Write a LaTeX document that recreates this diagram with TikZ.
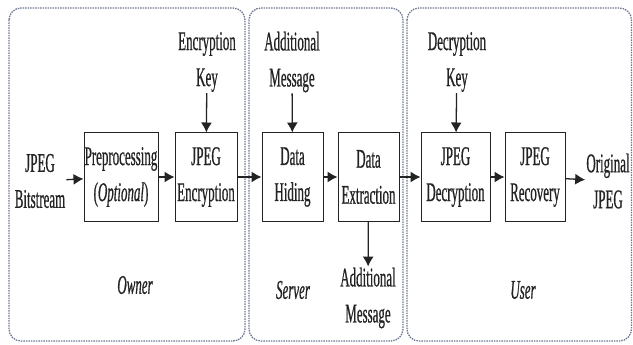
\documentclass[tikz,border=0pt]{standalone}
\usepackage{fontspec}
\setmainfont{Liberation Serif}[FakeStretch=0.48, FakeBold=0.6]
\usetikzlibrary{arrows.meta}
\definecolor{framec}{RGB}{110,120,145}
\definecolor{inkc}{RGB}{35,35,35}
\tikzset{
  frame/.style={draw=framec, line width=1.3pt, dash pattern=on 1.5pt off 1pt, rounded corners=12pt},
  procbox/.style={draw=inkc, line width=1pt, minimum height=88pt, inner sep=0pt, align=center, text=inkc},
  lbl/.style={align=center, inner sep=1pt, text=inkc},
  role/.style={inner sep=1pt, text=inkc, font=\fontsize{27}{36}\selectfont\itshape},
  flow/.style={draw=inkc, line width=1.3pt, -{Latex[length=10pt,width=11pt]}},
  every node/.style={font=\fontsize{27}{36}\selectfont}
}
\begin{document}
\begin{tikzpicture}[x=1pt,y=-1pt]
\useasboundingbox (0,0) rectangle (633,345);
% frames
\draw[frame] (9,8) rectangle (245,341);
\draw[frame] (249,8) rectangle (403,341);
\draw[frame] (407,8) rectangle (631.5,341);
% boxes
\node[procbox, minimum width=74pt] (pre) at (121,177) {Preprocessing\\(\textit{Optional})};
\node[procbox, minimum width=62pt] (enc) at (206,177) {JPEG\\Encryption};
\node[procbox, minimum width=61pt] (hid) at (292.5,177) {Data\\Hiding};
\node[procbox, minimum width=61pt] (ext) at (368.5,177) {Data\\Extraction};
\node[procbox, minimum width=69pt] (dec) at (455.5,177) {JPEG\\Decryption};
\node[procbox, minimum width=60pt] (rec) at (535,177) {JPEG\\Recovery};
% labels
\node[lbl] (bit) at (40,181) {JPEG\\Bitstream};
\node[lbl] (enckey) at (207,62) {Encryption\\Key};
\node[lbl] (addin) at (292,62) {Additional\\Message};
\node[lbl] (deckey) at (457,62) {Decryption\\Key};
\node[lbl] (addout) at (368,298) {Additional\\Message};
\node[lbl] (orig) at (608,181) {Original\\JPEG};
\node[role] (owner) at (135,285) {Owner};
\node[role] (server) at (293,290) {Server};
\node[role] (user) at (523,290) {User};
% connectors
\draw[flow] (bit) -- (pre);
\draw[flow] (pre) -- (enc);
\draw[flow] (enc) -- (hid);
\draw[flow] (hid) -- (ext);
\draw[flow] (ext) -- (dec);
\draw[flow] (dec) -- (rec);
\draw[flow] (rec) -- (orig);
\draw[flow] (enckey) -- (enc);
\draw[flow] (addin) -- (hid);
\draw[flow] (deckey) -- (dec);
\draw[flow] (ext) -- (addout);
\end{tikzpicture}
\end{document}
